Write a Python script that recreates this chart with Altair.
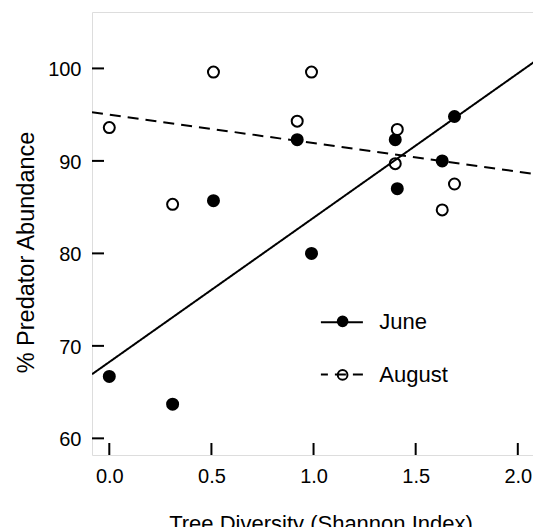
import altair as alt
import pandas as pd

# ---- data ----
months = ["June", "August"]
june_x = [0.0, 0.31, 0.51, 0.92, 0.99, 1.40, 1.41, 1.63, 1.69]
june_y = [66.7, 63.7, 85.7, 92.3, 80.0, 92.3, 87.0, 90.0, 94.8]
aug_x = [0.0, 0.31, 0.51, 0.92, 0.99, 1.41, 1.40, 1.69, 1.63]
aug_y = [93.6, 85.3, 99.6, 94.3, 99.6, 93.4, 89.7, 87.5, 84.7]
x_ticks = [0.0, 0.5, 1.0, 1.5, 2.0]
y_ticks = [60, 70, 80, 90, 100]
x_domain = [-0.0847, 2.1087]
y_domain = [58.2, 106.1]

FONT = "Liberation Sans"
W, H = 448, 443

df = pd.DataFrame({
    "x": june_x + aug_x,
    "y": june_y + aug_y,
    "month": ["June"] * len(june_x) + ["August"] * len(aug_x),
})
xt = pd.DataFrame({"v": x_ticks})
yt = pd.DataFrame({"v": y_ticks})

xs = alt.Scale(domain=x_domain, nice=False, zero=False)
ys = alt.Scale(domain=y_domain, nice=False, zero=False)

xaxis = alt.Axis(values=x_ticks, format=".1f", ticks=False, domain=False, grid=False,
                 labelFont=FONT, labelFontSize=20, labelColor="black", labelPadding=11,
                 title="Tree Diversity (Shannon Index)", titleFont=FONT, titleFontSize=22,
                 titleFontWeight="normal", titleColor="black", titleX=228.5, titleY=75.8,
                 titleBaseline="alphabetic", titleAlign="center")
yaxis = alt.Axis(values=y_ticks, format="d", ticks=False, domain=False, grid=False,
                 labelFont=FONT, labelFontSize=20, labelColor="black", labelPadding=11,
                 labelOffset=1.5,
                 title="% Predator Abundance", titleFont=FONT, titleFontSize=23.5,
                 titleFontWeight="normal", titleColor="black", titleX=-59, titleY=240,
                 titleBaseline="alphabetic", titleAlign="center", titleAngle=270)

xt_rules = alt.Chart(xt).mark_rule(color="black", strokeWidth=2).encode(
    x=alt.X("v:Q", scale=xs, axis=xaxis),
    y=alt.value(H), y2=alt.value(H - 12),
)
yt_rules = alt.Chart(yt).mark_rule(color="black", strokeWidth=2).encode(
    y=alt.Y("v:Q", scale=ys, axis=yaxis),
    x=alt.value(0), x2=alt.value(12),
)

lines = alt.Chart(df).transform_regression(
    "x", "y", groupby=["month"], extent=x_domain
).mark_line(color="black", strokeWidth=2, clip=True).encode(
    x=alt.X("x:Q", scale=xs, axis=xaxis),
    y=alt.Y("y:Q", scale=ys, axis=yaxis),
    strokeDash=alt.StrokeDash(
        "month:N", sort=months,
        scale=alt.Scale(range=[[1, 0], [11, 7]]),
        legend=alt.Legend(orient="none", legendX=227.9, legendY=288.2, title=None,
                          symbolType="stroke", symbolSize=1764, symbolStrokeWidth=2,
                          symbolStrokeColor="black", symbolDashOffset=4,
                          labelFont=FONT, labelFontSize=22, labelColor="black",
                          labelOffset=15.4, padding=0, rowPadding=19.3),
    ),
)

points = alt.Chart(df).transform_calculate(mpt="datum.month").mark_point(
    shape="circle", size=121, strokeWidth=2, stroke="black", opacity=1, clip=True
).encode(
    x=alt.X("x:Q", scale=xs, axis=xaxis),
    y=alt.Y("y:Q", scale=ys, axis=yaxis),
    fill=alt.Fill(
        "mpt:N",
        scale=alt.Scale(domain=months, range=["black", "white"]),
        legend=alt.Legend(orient="none", legendX=239.6, legendY=298.3, title=None,
                          symbolType="circle", symbolSize=94, symbolStrokeWidth=2,
                          symbolStrokeColor="black", symbolOpacity=1,
                          labelExpr="''", labelFont=FONT, labelFontSize=22,
                          padding=0, rowPadding=31.6),
    ),
)

chart = alt.layer(xt_rules, yt_rules, points, lines).properties(
    width=W, height=H,
    autosize=alt.AutoSizeParams(type="none"),
    padding={"left": 84, "top": 4, "right": -7, "bottom": 72},
).configure_view(stroke="black", strokeWidth=2).configure(background="white")

chart.save("out.html", embed_options={"renderer": "svg", "actions": False})
